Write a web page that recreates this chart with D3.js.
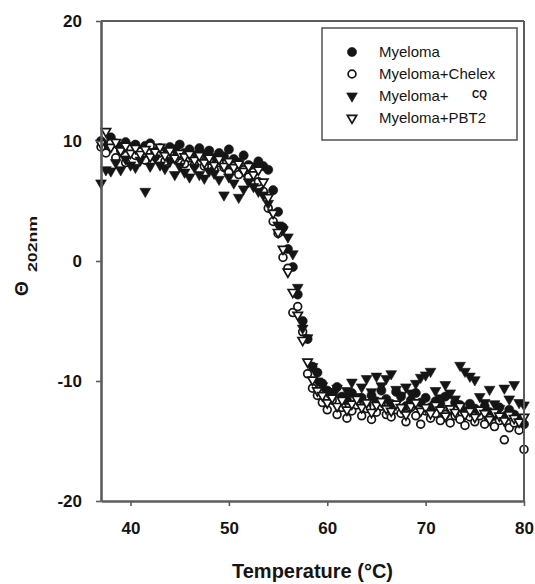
<!DOCTYPE html>
<html>
<head>
<meta charset="utf-8">
<script src="https://cdn.jsdelivr.net/npm/d3@7"></script>
<style>
html, body { margin: 0; padding: 0; background: #fff; }
svg { display: block; font-family: "Liberation Sans", Arial, sans-serif; }
</style>
</head>
<body>
<svg id="chart" width="535" height="584"></svg>
<script>
// Temperatura (°C) — grade de leitura comum às quatro séries
const temps = [
  37, 37.5, 38, 38.5, 39, 39.5, 40, 40.5, 41, 41.5, 42, 42.5, 43, 43.5, 44, 44.5, 45,
  45.5, 46, 46.5, 47, 47.5, 48, 48.5, 49, 49.5, 50,
  50.5, 51, 51.5, 52, 52.5, 53, 53.5, 54, 54.5, 55, 55.5, 56, 56.5, 57, 57.5, 58, 58.5, 59,
  59.5, 60, 60.5, 61, 61.5, 62, 62.5, 63, 63.5, 64, 64.5, 65, 65.5, 66, 66.5, 67, 67.5, 68,
  68.5, 69, 69.5, 70, 70.5, 71, 71.5, 72, 72.5, 73, 73.5, 74, 74.5, 75, 75.5, 76, 76.5, 77,
  77.5, 78, 78.5, 79, 79.5, 80
];

// Θ 202nm
const myeloma = [
  10.0, 9.6, 10.3, 9.8, 9.5, 9.9, 9.4, 9.7, 9.2, 9.6, 9.8, 9.1, 9.4, 9.0, 9.5, 9.3, 9.7,
  9.0, 9.3, 8.8, 9.4, 8.9, 9.2, 8.6, 9.0, 8.7, 9.3,
  8.5, 8.2, 8.8, 8.0, 7.8, 8.3, 7.9, 7.6, 5.9, 4.1, 2.8, 1.0, -0.5, -2.8, -5.0, -6.5, -8.8, -9.3,
  -10.2, -10.8, -11.0, -10.5, -11.3, -11.6, -11.0, -11.8, -11.4, -12.0, -11.2, -11.7, -10.8, -11.5,
  -11.9, -10.9, -11.3, -12.1, -11.6, -11.0, -11.8, -11.4, -12.2, -11.7, -11.9, -11.3, -12.4, -11.8,
  -12.0, -12.5, -11.9, -12.3, -12.8, -12.1, -12.6, -12.9, -12.2, -13.0, -12.4, -12.8, -13.3, -13.6
];

const chelex = [
  9.5, 9.0, 9.8, 8.6, 9.2, 8.2, 9.4, 8.8, 9.1, 8.4, 9.6, 8.7, 9.0, 8.3, 8.9, 8.5, 8.8,
  8.1, 8.6, 8.0, 8.7, 7.9, 8.4, 7.6, 8.2, 7.8, 7.4,
  7.9, 7.2, 7.6, 7.0, 7.4, 6.6, 5.8, 4.4, 3.3, 2.3, 0.3, -0.6, -4.3, -3.8, -5.9, -9.4, -10.6, -11.2,
  -11.8, -12.4, -11.6, -12.8, -12.2, -13.1, -12.5, -12.0, -12.9, -12.3, -13.2, -12.6, -12.1, -12.8,
  -13.0, -12.4, -12.7, -13.4, -12.2, -12.9, -13.6, -12.5, -13.1, -12.7, -13.3, -12.8, -13.5, -12.9,
  -13.2, -13.7, -13.0, -13.4, -12.9, -13.6, -13.1, -13.8, -13.3, -14.9, -13.9, -13.5, -14.1, -15.7
];

const cq = [
  6.5, 7.6, 7.5, 8.2, 7.6, 8.5, 8.0, 7.8, 8.4, 5.8, 7.9, 8.6, 8.0, 7.7, 8.3, 7.2, 7.9,
  7.4, 7.0, 7.8, 7.2, 6.9, 7.5, 7.3, 6.8, 5.5, 7.0,
  6.5, 5.3, 6.0, 6.6, 6.2, 5.8, 5.5, 4.8, 4.0, 3.0, 2.6, 2.0, 0.6, -2.2, -5.6, -6.4, -8.8, -10.0,
  -10.4, -10.9, -11.2, -10.6, -11.5, -10.8, -10.1, -11.3, -10.5, -9.8, -10.9, -9.6, -10.4, -9.8,
  -9.4, -10.7, -11.2, -10.5, -11.0, -10.2, -9.7, -9.5, -9.2, -10.8, -11.4, -10.3, -11.0, -11.5,
  -8.7, -9.2, -9.6, -9.9, -11.3, -11.8, -10.7, -11.9, -12.3, -10.6, -11.5, -10.3, -11.8, -12.0
];

const pbt2 = [
  9.8, 10.8, 9.5, 9.9, 9.2, 9.6, 9.0, 9.4, 8.9, 9.3, 8.7, 9.1, 9.5, 8.8, 9.2, 8.6, 9.0,
  8.7, 8.9, 8.4, 8.8, 8.2, 8.6, 8.0, 8.5, 7.9, 8.3,
  7.8, 8.1, 7.5, 7.9, 7.2, 7.6, 6.6, 5.3, 4.0, 2.4, 1.0, -0.9, -2.6, -4.5, -6.6, -8.4, -9.9, -10.8,
  -11.2, -11.8, -11.4, -12.1, -11.6, -12.4, -11.9, -11.5, -12.2, -11.8, -12.6, -12.0, -11.7, -12.3,
  -12.5, -11.9, -12.2, -12.8, -12.1, -11.8, -12.5, -12.2, -12.7, -12.0, -12.4, -12.9, -12.3, -12.6,
  -12.1, -12.8, -12.5, -13.0, -12.4, -12.7, -13.2, -12.6, -12.9, -13.3, -12.8, -13.1, -13.4, -13.0
];

const xTicks = [40, 50, 60, 70, 80];
const yTicks = [-20, -10, 0, 10, 20];
const legendLabels = ["Myeloma", "Myeloma+Chelex", "Myeloma+", "Myeloma+PBT2"];

// Estilo de marcador por série (mesma ordem da legenda)
const series = [
  { values: myeloma, shape: "circle",   filled: true  },
  { values: chelex,  shape: "circle",   filled: false },
  { values: cq,      shape: "triangle", filled: true  },
  { values: pbt2,    shape: "triangle", filled: false }
];

const AXIS_COLOR = "#5c5c5c";
const INK = "#151515";

const svg = d3.select("#chart");

const x = d3.scaleLinear().domain([37, 80]).range([101, 524]);
const y = d3.scaleLinear().domain([-20, 20]).range([501, 21]);

// =========================================
// MARCADORES
// =========================================

function markerPath(shape, filled) {
  if (shape === "circle") {
    return d3.symbol(d3.symbolCircle, filled ? 66 : 48)();
  }
  return d3.symbol(d3.symbolTriangle, filled ? 50 : 38)();
}

function drawMarker(sel, s) {
  sel.attr("d", markerPath(s.shape, s.filled))
    .attr("fill", s.filled ? INK : "#fff")
    .attr("stroke", INK)
    .attr("stroke-width", s.filled ? 0.6 : 1.7);
}

// =========================================
// PONTOS
// =========================================

const pointsG = svg.append("g").attr("class", "points");

series.forEach(s => {
  const rot = s.shape === "triangle" ? " rotate(180)" : "";
  pointsG.append("g")
    .selectAll("path")
    .data(temps.map((t, i) => [t, s.values[i]]))
    .join("path")
    .attr("transform", d => `translate(${x(d[0])},${y(d[1])})${rot}`)
    .call(drawMarker, s);
});

// =========================================
// MOLDURA E EIXOS
// =========================================

svg.append("line")
  .attr("x1", 101).attr("x2", 524).attr("y1", 21).attr("y2", 21)
  .attr("stroke", AXIS_COLOR).attr("stroke-width", 2);
svg.append("line")
  .attr("x1", 524).attr("x2", 524).attr("y1", 21).attr("y2", 501)
  .attr("stroke", AXIS_COLOR).attr("stroke-width", 2);

const plainNum = d => String(d);

const yAxis = svg.append("g")
  .attr("transform", "translate(101,0)")
  .call(d3.axisLeft(y).tickValues(yTicks).tickFormat(plainNum)
    .tickSize(5).tickSizeOuter(0).tickPadding(14));

const xAxis = svg.append("g")
  .attr("transform", "translate(0,501)")
  .call(d3.axisBottom(x).tickValues(xTicks).tickFormat(plainNum)
    .tickSize(5).tickSizeOuter(0).tickPadding(16));

[yAxis, xAxis].forEach(ax => {
  ax.select(".domain").attr("stroke", AXIS_COLOR).attr("stroke-width", 2.6);
  ax.selectAll(".tick line").attr("stroke", AXIS_COLOR).attr("stroke-width", 1.6);
  ax.selectAll(".tick text")
    .attr("fill", INK)
    .style("font-family", '"Liberation Sans", Arial, sans-serif')
    .style("font-size", "17px")
    .style("font-weight", "bold");
});

// Título do eixo X
svg.append("text")
  .attr("x", 312.5)
  .attr("y", 578)
  .attr("text-anchor", "middle")
  .attr("fill", INK)
  .style("font-size", "20px")
  .style("font-weight", "bold")
  .text("Temperature (°C)");

// Título do eixo Y: Θ com índice 202nm
svg.append("text")
  .attr("transform", "translate(27.5,288.5) rotate(-90)")
  .attr("text-anchor", "middle")
  .attr("fill", INK)
  .style("font-size", "19px")
  .style("font-weight", "bold")
  .text("Θ");

svg.append("text")
  .attr("transform", "translate(37,244) rotate(-90)")
  .attr("text-anchor", "middle")
  .attr("fill", INK)
  .attr("textLength", 56)
  .attr("lengthAdjust", "spacingAndGlyphs")
  .style("font-size", "12.5px")
  .style("font-weight", "bold")
  .text("202nm");

// =========================================
// LEGENDA
// =========================================

const legendG = svg.append("g").attr("class", "legend");

legendG.append("rect")
  .attr("x", 322).attr("y", 28)
  .attr("width", 195).attr("height", 112)
  .attr("fill", "#fff")
  .attr("stroke", AXIS_COLOR)
  .attr("stroke-width", 1.6);

const rows = legendG.selectAll(".legend-row")
  .data(series)
  .join("g")
  .attr("class", "legend-row")
  .attr("transform", (d, i) => `translate(0,${52 + i * 22})`);

rows.append("path")
  .attr("transform", d => `translate(352,0)${d.shape === "triangle" ? " rotate(180)" : ""}`)
  .each(function (d) { d3.select(this).call(drawMarker, d); });

rows.append("text")
  .attr("x", 379)
  .attr("y", 5)
  .attr("fill", INK)
  .style("font-size", "15px")
  .text((d, i) => legendLabels[i]);

// "CQ" pequeno e elevado, como na figura original
rows.filter((d, i) => i === 2)
  .append("text")
  .attr("x", 472)
  .attr("y", 1.5)
  .attr("fill", INK)
  .style("font-size", "10px")
  .style("font-weight", "bold")
  .text("CQ");
</script>
</body>
</html>
